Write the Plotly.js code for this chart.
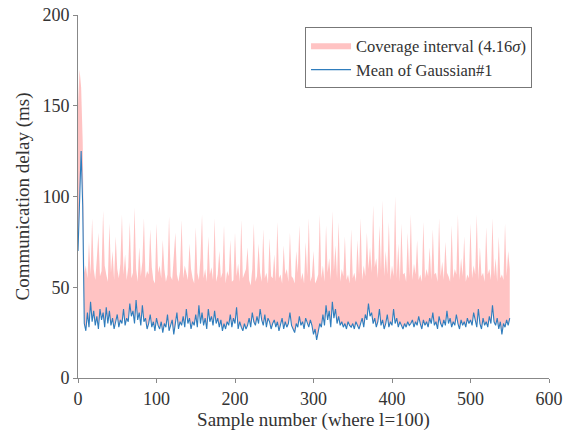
<!DOCTYPE html>
<html>
<head>
<meta charset="utf-8">
<script src="https://cdn.plot.ly/plotly-3.0.1.min.js"></script>
<style>html,body{margin:0;padding:0;background:#fff;}#chart{width:571px;height:437px;}</style>
</head>
<body>
<div id="chart"></div>
<script>
// Sample spacing (samples are read every 2nd sample, starting at 0)
const sampleStart = 0;
const sampleStep = 2;

// Mean of Gaussian#1 (ms)
const meanDelay = [
70,100,125,95,30,26,36,28,42,31,37,29,34,27,38,32,36,28,39,30,37,29,33,27,31,
35,28,32,30,38,29,33,31,41,34,37,30,43,32,36,29,40,31,33,27,30,35,28,31,26,
33,29,27,31,25,30,28,35,26,29,32,24,30,36,27,31,29,34,28,38,30,33,27,31,29,
35,28,40,30,36,29,33,27,38,31,34,29,37,30,33,28,32,26,30,27,31,29,35,28,33,
30,39,27,31,28,26,30,27,29,33,28,36,31,29,34,30,38,32,29,35,28,33,31,27,30,
32,28,31,26,29,33,27,31,28,30,36,29,27,25,30,28,34,29,31,27,33,30,28,32,29,
24,27,21,26,30,28,35,29,40,32,37,28,42,33,38,30,34,29,31,28,30,27,31,29,28,
30,27,31,29,27,30,33,28,35,32,41,34,36,30,33,28,31,38,29,32,27,30,35,28,31,
29,38,30,33,28,31,29,27,30,28,31,29,30,32,28,31,29,34,30,27,32,29,31,28,33,
30,36,29,31,27,34,30,28,32,29,37,30,33,28,31,29,35,30,27,32,29,31,28,33,30,
32,29,36,31,28,38,30,27,33,29,31,28,34,30,40,31,29,33,27,31,24,30,28,32,29,
33
];

// Upper edge of the coverage interval (ms)
const upperDelay = [
150,170,160,130,58,62,55,75,57,88,60,54,66,80,56,59,92,62,57,53,85,58,70,54,78,
60,55,63,90,57,68,54,61,86,55,58,94,60,53,72,56,64,88,55,59,57,82,61,54,52,
85,58,62,55,76,60,53,57,89,56,54,65,80,57,53,59,87,55,62,58,54,74,60,55,52,
83,58,54,66,90,55,60,53,78,57,61,54,88,53,57,70,55,58,84,52,59,56,76,53,54,
80,56,63,53,87,55,57,60,72,54,51,60,85,53,56,74,58,53,82,55,58,52,77,56,55,
68,53,86,55,57,52,73,57,60,53,80,56,55,52,70,58,84,54,58,52,75,56,88,53,56,
70,52,54,57,90,55,62,53,84,58,66,54,92,59,73,55,86,53,60,56,78,54,57,52,82,
55,58,53,76,57,88,54,62,56,80,60,72,58,95,61,66,55,84,59,98,56,70,57,86,54,
62,56,100,55,74,53,85,57,58,53,80,56,90,54,63,57,76,54,57,53,86,55,60,56,72,
54,82,57,58,53,88,56,64,54,75,58,56,53,84,55,60,57,90,54,66,56,78,53,57,55,
85,55,62,57,90,54,72,56,58,53,83,57,60,54,88,56,66,53,78,55,57,54,85,56,70,
60
];

const xTicks = [0,100,200,300,400,500,600];
const yTicks = [0,50,100,150,200];

const font = "'Liberation Serif', 'Times New Roman', serif";

const traces = [
  {x0: sampleStart, dx: sampleStep, y: meanDelay, type: 'scatter', mode: 'lines',
   line: {width: 0, color: 'rgba(0,0,0,0)'}, showlegend: false, hoverinfo: 'skip'},
  {x0: sampleStart, dx: sampleStep, y: upperDelay, type: 'scatter', mode: 'lines',
   fill: 'tonexty', fillcolor: 'rgba(255,182,182,0.82)',
   line: {width: 0, color: 'rgba(255,182,182,0.82)'},
   name: 'Coverage interval (4.16<i>σ</i>)'},
  {x0: sampleStart, dx: sampleStep, y: meanDelay, type: 'scatter', mode: 'lines',
   line: {width: 1.1, color: '#2f7dbd'}, name: 'Mean of Gaussian#1'}
];

const layout = {
  width: 571, height: 437,
  margin: {l: 78, r: 22, t: 15, b: 59},
  paper_bgcolor: '#fff', plot_bgcolor: '#fff',
  font: {family: font, color: '#333', size: 17},
  showlegend: true,
  legend: {x: 0.482, y: 0.967, xanchor: 'left', yanchor: 'top', traceorder: 'normal',
           bgcolor: '#fff', bordercolor: '#777', borderwidth: 1,
           font: {family: font, size: 16.5, color: '#333'},
           tracegroupgap: 0, itemwidth: 40},
  xaxis: {range: [0, 600], tickvals: xTicks, ticktext: xTicks.map(String),
          showgrid: false, zeroline: false, showline: true, linecolor: '#888', linewidth: 1,
          ticks: 'outside', ticklen: 4, tickcolor: '#888',
          tickfont: {family: font, size: 18, color: '#333'},
          title: {text: 'Sample number (where l=100)', font: {family: font, size: 19, color: '#333'}, standoff: 5}},
  yaxis: {range: [0, 200], tickvals: yTicks, ticktext: yTicks.map(String),
          showgrid: false, zeroline: false, showline: true, linecolor: '#888', linewidth: 1,
          ticks: 'outside', ticklen: 4, tickcolor: '#888',
          tickfont: {family: font, size: 18, color: '#333'},
          title: {text: 'Communication delay (ms)', font: {family: font, size: 19, color: '#333'}, standoff: 7}}
};

Plotly.newPlot('chart', traces, layout, {displayModeBar: false, staticPlot: true});
</script>
</body>
</html>
